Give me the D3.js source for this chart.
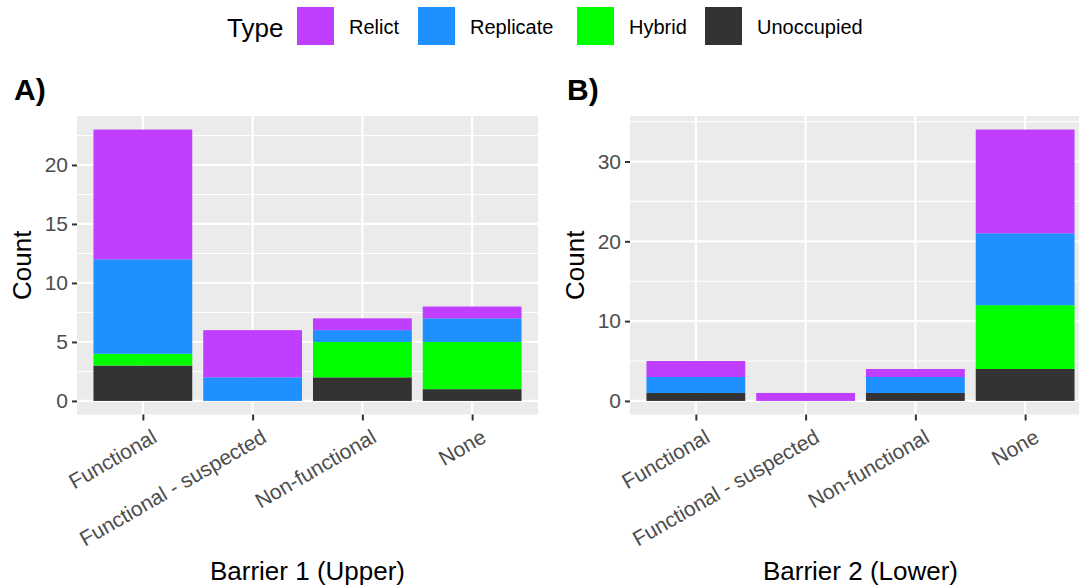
<!DOCTYPE html>
<html><head><meta charset="utf-8">
<script src="https://cdn.jsdelivr.net/npm/d3@7"></script>
<style>body{margin:0;background:#fff}svg{display:block;font-family:"Liberation Sans",Arial,sans-serif}</style>
</head><body><svg id="c" width="1079" height="586"></svg>
<script>
const categories = ["Functional", "Functional - suspected", "Non-functional", "None"];
const types = ["Relict", "Replicate", "Hybrid", "Unoccupied"];
const colors = ["#BF3EFF", "#1E90FF", "#00FF00", "#333333"];
// Panel A: Barrier 1 (Upper)
const aUnoccupied = [3, 0, 2, 1];
const aHybrid     = [1, 0, 3, 4];
const aReplicate  = [8, 2, 1, 2];
const aRelict     = [11, 4, 1, 1];
// Panel B: Barrier 2 (Lower)
const bUnoccupied = [1, 0, 1, 4];
const bHybrid     = [0, 0, 0, 8];
const bReplicate  = [2, 0, 2, 9];
const bRelict     = [2, 1, 1, 13];
const aTicks = [0, 5, 10, 15, 20];
const bTicks = [0, 10, 20, 30];

const svg = d3.select("#c");
const color = d3.scaleOrdinal().domain(types).range(colors);

function panel(opts) {
  const {x0, x1, y0, y1, data, ticks, minor, tag, title} = opts;
  const g = svg.append("g");
  const rows = categories.map((c, i) => ({cat: c, Unoccupied: data.Unoccupied[i], Hybrid: data.Hybrid[i], Replicate: data.Replicate[i], Relict: data.Relict[i]}));
  const stackOrder = ["Unoccupied", "Hybrid", "Replicate", "Relict"];
  const series = d3.stack().keys(stackOrder)(rows);
  const maxV = d3.max(rows, r => stackOrder.reduce((s, k) => s + r[k], 0));
  const pad = maxV * 0.05;
  const y = d3.scaleLinear().domain([-pad, maxV + pad]).range([y1, y0]);
  const n = categories.length;
  const xc = d3.scaleLinear().domain([0.4, n + 0.6]).range([x0, x1]);
  const x = c => xc(categories.indexOf(c) + 1);
  const bw = (xc(1.9) - xc(1));
  g.append("rect").attr("x", x0).attr("y", y0).attr("width", x1 - x0).attr("height", y1 - y0).attr("fill", "#EBEBEB");
  g.selectAll(".mn").data(minor).enter().append("line")
    .attr("x1", x0).attr("x2", x1).attr("y1", d => y(d)).attr("y2", d => y(d))
    .attr("stroke", "#fff").attr("stroke-width", 1.1);
  g.selectAll(".mj").data(ticks).enter().append("line")
    .attr("x1", x0).attr("x2", x1).attr("y1", d => y(d)).attr("y2", d => y(d))
    .attr("stroke", "#fff").attr("stroke-width", 2.2);
  g.selectAll(".vx").data(categories).enter().append("line")
    .attr("x1", d => x(d)).attr("x2", d => x(d)).attr("y1", y0).attr("y2", y1)
    .attr("stroke", "#fff").attr("stroke-width", 2.2);
  series.forEach(s => {
    g.selectAll(null).data(s.filter(d => d[1] > d[0])).enter().append("rect")
      .attr("x", d => x(d.data.cat) - bw / 2).attr("width", bw)
      .attr("y", d => y(d[1])).attr("height", d => y(d[0]) - y(d[1]))
      .attr("fill", color(s.key));
  });
  const ya = g.append("g").attr("transform", `translate(${x0},0)`)
    .call(d3.axisLeft(y).tickValues(ticks).tickSize(5).tickPadding(4));
  ya.select(".domain").remove();
  ya.selectAll(".tick line").attr("stroke", "#333").attr("stroke-width", 2);
  ya.selectAll(".tick text").attr("fill", "#4D4D4D").style("font-size", "21px").attr("font-family", "Liberation Sans, Arial, sans-serif");
  const xs = d3.scalePoint().domain(categories).range([x(categories[0]), x(categories[n - 1])]);
  const xa = g.append("g").attr("transform", `translate(0,${y1})`)
    .call(d3.axisBottom(xs).tickSize(6).tickFormat(""));
  xa.select(".domain").remove();
  xa.selectAll(".tick line").attr("stroke", "#333").attr("stroke-width", 2);
  xa.selectAll(".tick").append("text")
    .attr("transform", "translate(7,13) rotate(-30)")
    .attr("text-anchor", "end").attr("dy", "0.75em")
    .attr("fill", "#4D4D4D").style("font-size", "21px")
    .attr("font-family", "Liberation Sans, Arial, sans-serif")
    .text(d => d);
  g.append("text").attr("x", (x0 + x1) / 2).attr("y", 580).attr("text-anchor", "middle")
    .style("font-size", "26px").attr("fill", "#000").text(title);
  g.append("text").attr("transform", `translate(${x0 - 46},${(y0 + y1) / 2}) rotate(-90)`)
    .attr("text-anchor", "middle").style("font-size", "26px").attr("fill", "#000").text("Count");
  g.append("text").attr("x", opts.tagX).attr("y", 100).style("font-size", "30px")
    .style("font-weight", "bold").attr("fill", "#000").text(tag);
}

panel({x0: 77, x1: 538, y0: 116, y1: 414.5, tag: "A)", tagX: 14, title: "Barrier 1 (Upper)", ticks: aTicks, minor: [2.5, 7.5, 12.5, 17.5, 22.5],
  data: {Unoccupied: aUnoccupied, Hybrid: aHybrid, Replicate: aReplicate, Relict: aRelict}});
panel({x0: 630, x1: 1091, y0: 116, y1: 414.5, tag: "B)", tagX: 567, title: "Barrier 2 (Lower)", ticks: bTicks, minor: [5, 15, 25, 35],
  data: {Unoccupied: bUnoccupied, Hybrid: bHybrid, Replicate: bReplicate, Relict: bRelict}});

const lg = svg.append("g");
lg.append("text").attr("x", 227).attr("y", 37).style("font-size", "26px").attr("fill", "#000").text("Type");
const keyX = [297, 418, 577, 705];
types.forEach((t, i) => {
  lg.append("rect").attr("x", keyX[i]).attr("y", 7).attr("width", 37).attr("height", 38).attr("fill", color(t));
  lg.append("text").attr("x", keyX[i] + 52).attr("y", 34).style("font-size", "20px").attr("fill", "#000").text(t);
});
</script></body></html>
